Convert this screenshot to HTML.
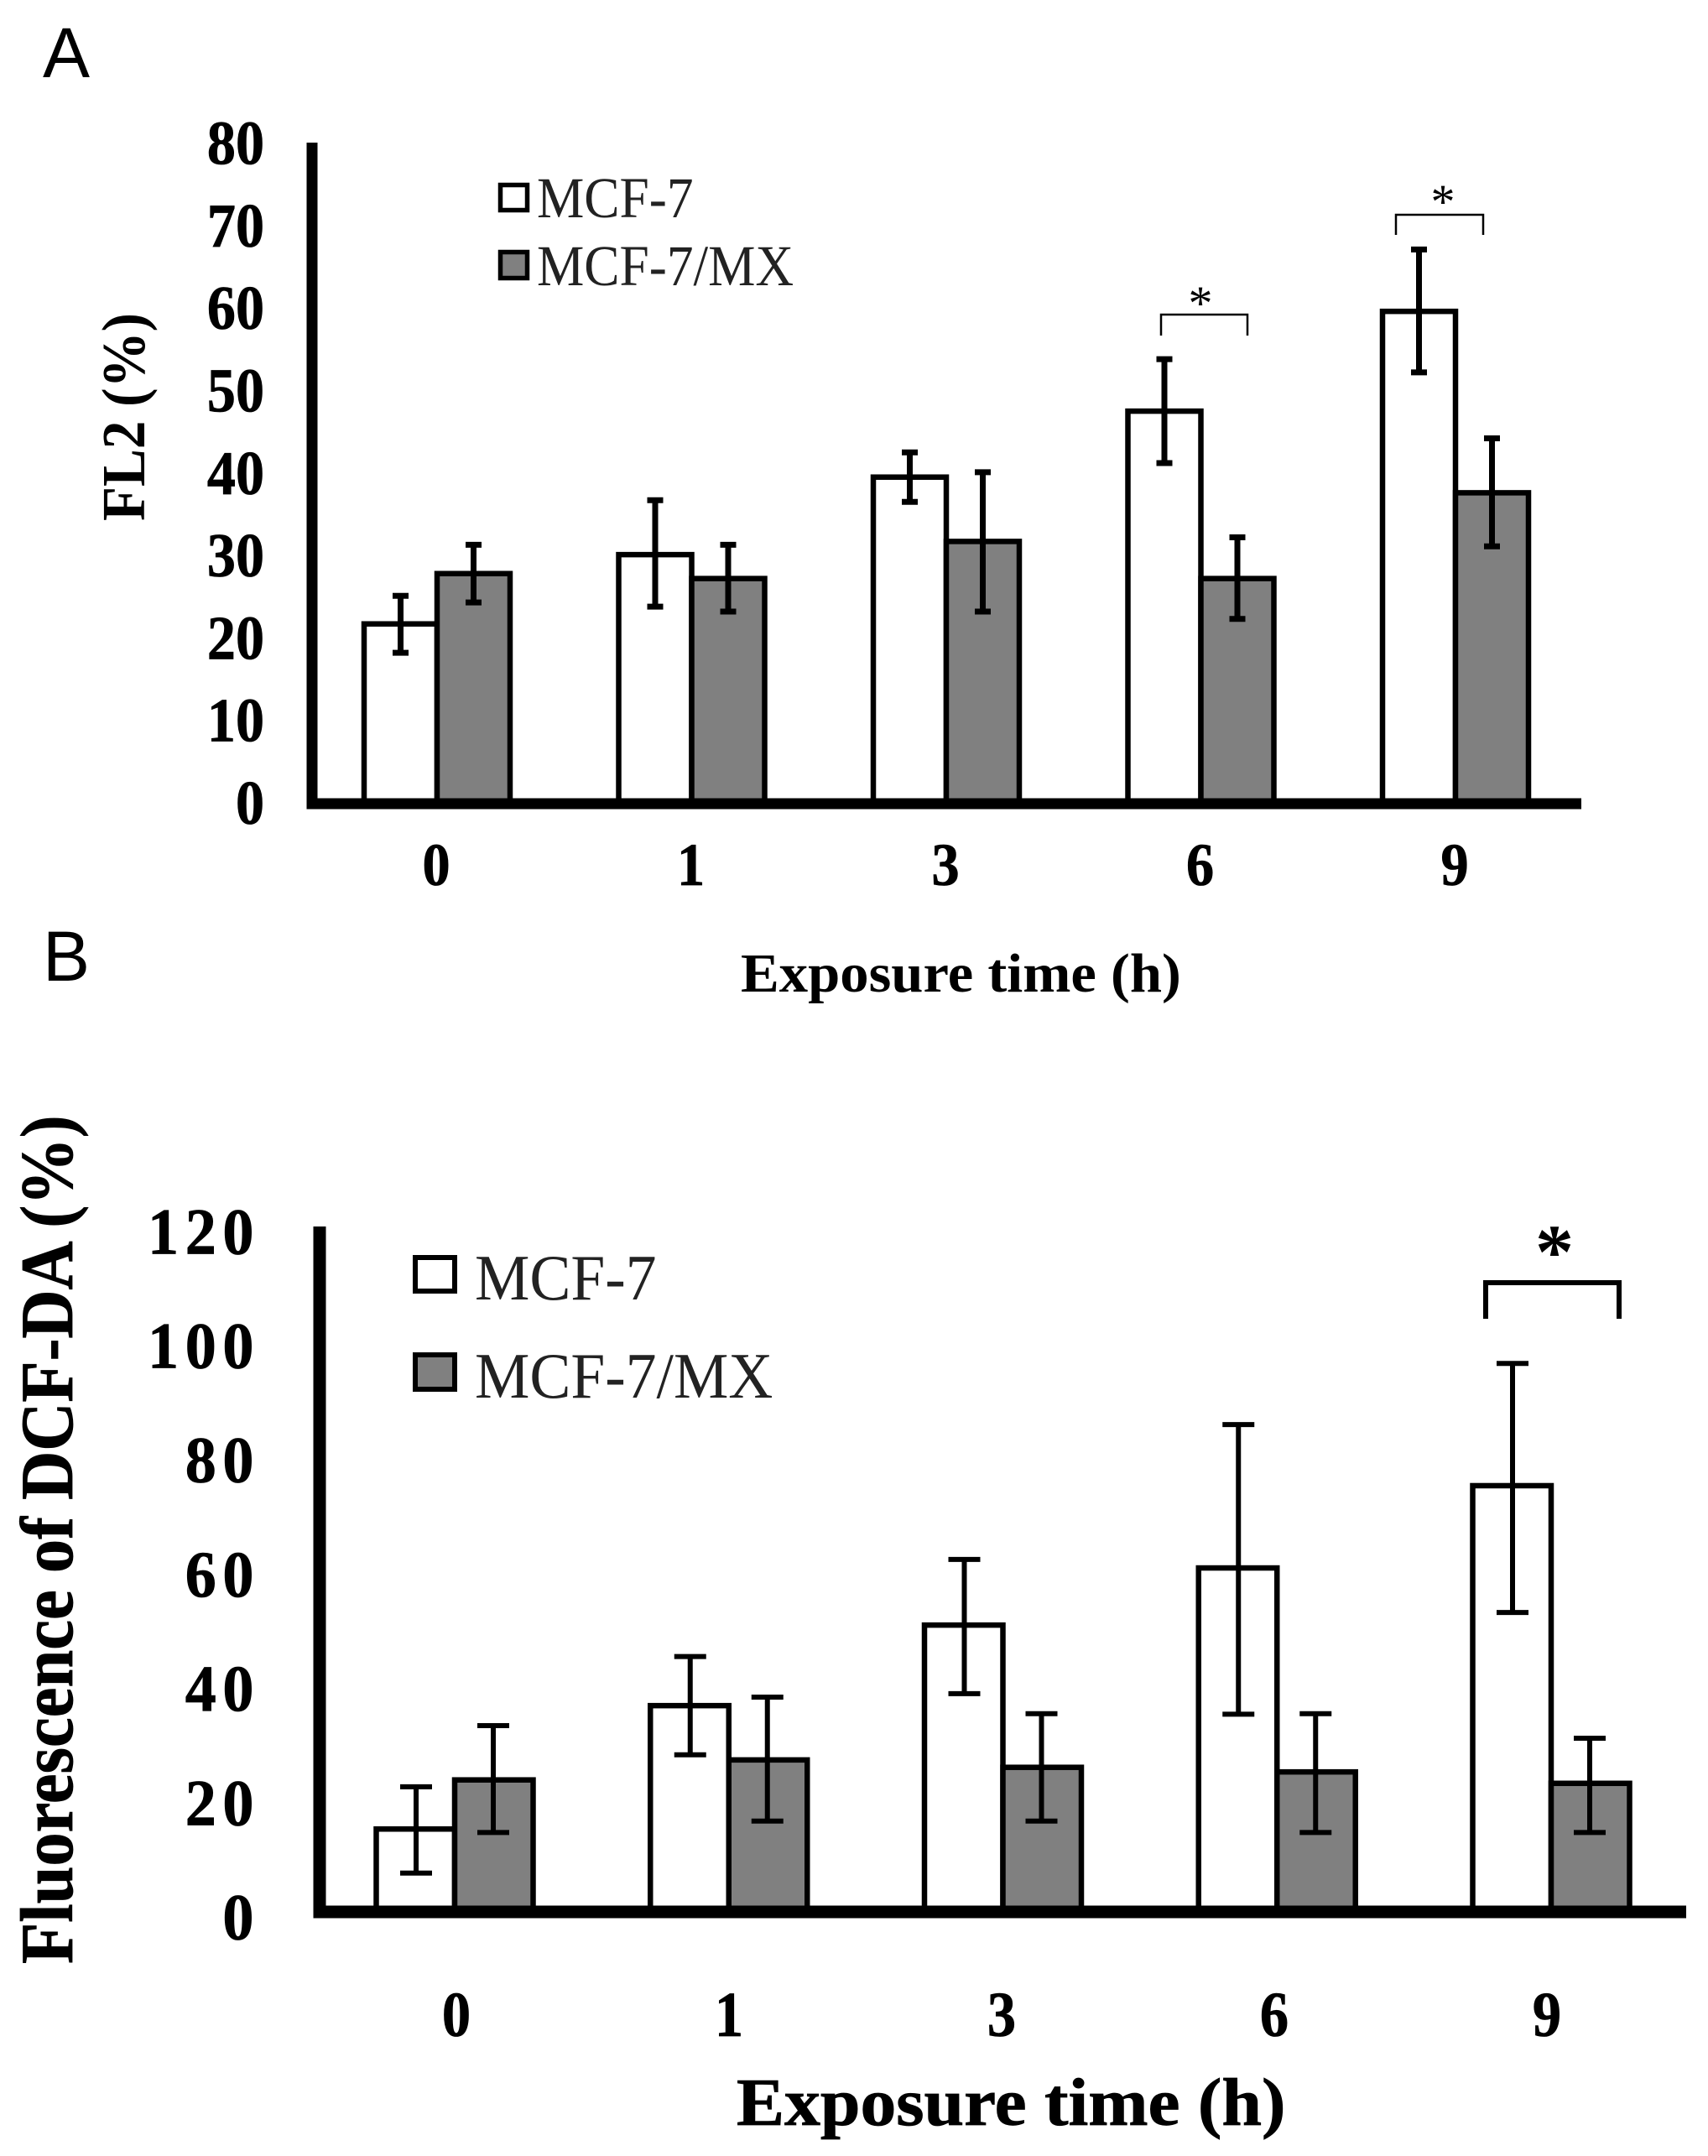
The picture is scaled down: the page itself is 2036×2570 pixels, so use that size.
<!DOCTYPE html>
<html lang="en">
<head>
<meta charset="utf-8">
<title>FL2 and DCF-DA fluorescence over exposure time</title>
<style>
html,body{margin:0;padding:0;background:#fff;}
#figure{display:block;width:2036px;height:2570px;background:#fff;}
text{font-family:"Liberation Serif",serif;fill:#000;}
.bold{font-weight:bold;}
.heavy{font-weight:bold;stroke:#000;stroke-width:0.8px;}
.light{fill:#222;}
.panel-letter{font-family:"Liberation Sans",sans-serif;font-size:84px;}
</style>
</head>
<body>
<svg id="figure" xmlns="http://www.w3.org/2000/svg" width="2036" height="2570" viewBox="0 0 2036 2570">
  <rect x="0" y="0" width="2036" height="2570" fill="#fff"/>

  <g id="panelA"></g>
  <g id="panelB"></g>

  <text class="panel-letter" x="51" y="92">A</text>
  <text class="panel-letter" x="51" y="1169">B</text>

  <text class="bold" font-size="73" transform="translate(172,621) rotate(-90) scale(0.92,1)">FL2 (%)</text>
  <text class="bold" font-size="66" transform="translate(883,1182) scale(1.04,1)">Exposure time (h)</text>
  <text class="heavy" font-size="89" transform="translate(86,2341) rotate(-90) scale(0.905,1)">Fluorescence of DCF-DA (%)</text>
  <text class="heavy" font-size="80" transform="translate(878,2533) scale(1.07,1)">Exposure time (h)</text>

  <g>
    <rect x="596.5" y="220.5" width="32" height="30" fill="#fff" stroke="#000" stroke-width="5.5"/>
    <text class="light" font-size="69" transform="translate(640,259) scale(0.918,1)">MCF-7</text>
    <rect x="596.5" y="300.5" width="32" height="31" fill="#808080" stroke="#000" stroke-width="5.5"/>
    <text class="light" font-size="69" transform="translate(640,340) scale(0.918,1)">MCF-7/MX</text>
  </g>
  <g>
    <rect x="495" y="1499" width="47" height="40" fill="#fff" stroke="#000" stroke-width="6"/>
    <text class="light" font-size="77" transform="translate(566,1549) scale(0.955,1)">MCF-7</text>
    <rect x="495" y="1615" width="47" height="41" fill="#808080" stroke="#000" stroke-width="6"/>
    <text class="light" font-size="77" transform="translate(566,1666) scale(0.955,1)">MCF-7/MX</text>
  </g>

  <g>
    <path d="M1384 400V375H1487V400" fill="none" stroke="#000" stroke-width="2.5"/>
    <text font-size="58" text-anchor="middle" x="1431" y="381">*</text>
  </g>
  <g>
    <path d="M1664 280V256H1768V280" fill="none" stroke="#000" stroke-width="2.5"/>
    <text font-size="58" text-anchor="middle" x="1720" y="260">*</text>
  </g>
  <g>
    <path d="M1771 1572V1529H1930V1572" fill="none" stroke="#000" stroke-width="6"/>
    <text class="bold" font-size="92" text-anchor="middle" x="1853" y="1523">*</text>
  </g>
</svg>

<script>
// Shared categories
const exposureHours = ['0', '1', '3', '6', '9'];

// Panel A values (FL2 %)
const panelAYTicks = [0, 10, 20, 30, 40, 50, 60, 70, 80];
const panelAMcf7 = [21.8, 30.2, 39.6, 47.6, 59.7];
const panelAMcf7High = [25.2, 36.8, 42.6, 53.9, 67.2];
const panelAMcf7Low = [18.3, 23.9, 36.6, 41.3, 52.3];
const panelAMx = [27.9, 27.3, 31.8, 27.3, 37.7];
const panelAMxHigh = [31.4, 31.4, 40.2, 32.3, 44.3];
const panelAMxLow = [24.4, 23.3, 23.3, 22.4, 31.2];

// Panel B values (fluorescence of DCF-DA %)
const panelBYTicks = [0, 20, 40, 60, 80, 100, 120];
const panelBMcf7 = [14.5, 36.1, 50.2, 60.2, 74.6];
const panelBMcf7High = [21.9, 44.7, 61.7, 85.3, 96];
const panelBMcf7Low = [6.8, 27.5, 38.2, 34.6, 52.4];
const panelBMx = [23.1, 26.6, 25.3, 24.5, 22.5];
const panelBMxHigh = [32.6, 37.6, 34.7, 34.7, 30.4];
const panelBMxLow = [13.9, 15.9, 15.9, 13.9, 13.9];

const SVG_NS = 'http://www.w3.org/2000/svg';

function make(parent, tag, attrs) {
  const el = document.createElementNS(SVG_NS, tag);
  for (const key in attrs) el.setAttribute(key, attrs[key]);
  parent.appendChild(el);
  return el;
}

function drawPanel(root, layout, series) {
  const yScale = function (v) { return layout.y0 - v * layout.pxPerUnit; };
  const groupX = function (i) { return layout.x0 + i * layout.step; };
  const labelX = function (i) { return layout.labelX0 + i * layout.labelStep; };

  // bars
  series.categories.forEach(function (cat, i) {
    const mid = groupX(i);

    const whiteTop = yScale(series.first[i]);
    const whiteBar = make(root, 'rect', {
      x: mid - layout.barW, y: whiteTop, width: layout.barW, height: layout.y0 - whiteTop,
      fill: '#fff', stroke: '#000', 'stroke-width': layout.barStroke
    });
    
    

    const grayTop = yScale(series.second[i]);
    const grayBar = make(root, 'rect', {
      x: mid, y: grayTop, width: layout.barW, height: layout.y0 - grayTop,
      fill: '#808080', stroke: '#000', 'stroke-width': layout.barStroke
    });
    
    
  });

  // axes
  const yAxis = make(root, 'line', {
    x1: layout.axisX, x2: layout.axisX, y1: layout.axisTop, y2: layout.y0 + layout.xAxisW / 2,
    stroke: '#000', 'stroke-width': layout.yAxisW
  });
  
  

  const xAxis = make(root, 'line', {
    x1: layout.axisX, x2: layout.axisRight, y1: layout.y0, y2: layout.y0,
    stroke: '#000', 'stroke-width': layout.xAxisW
  });
  
  

  // error bars
  function errorBar(cx, high, low, name) {
    const yHigh = yScale(high);
    const yLow = yScale(low);
    const group = make(root, 'path', {
      d: 'M' + cx + ' ' + yHigh + 'V' + yLow +
         'M' + (cx - layout.capW / 2) + ' ' + yHigh + 'H' + (cx + layout.capW / 2) +
         'M' + (cx - layout.capW / 2) + ' ' + yLow + 'H' + (cx + layout.capW / 2),
      fill: 'none', stroke: '#000', 'stroke-width': layout.errStroke
    });
    
    
  }
  series.categories.forEach(function (cat, i) {
    const mid = groupX(i);
    errorBar(mid - layout.errOffset, series.firstHigh[i], series.firstLow[i], 'error-bar-mcf7');
    errorBar(mid + layout.errOffset, series.secondHigh[i], series.secondLow[i], 'error-bar-mcf7-mx');
  });

  // y tick labels
  series.yTicks.forEach(function (tick) {
    const label = make(root, 'text', {
      class: 'heavy',
      'font-size': layout.yFont,
      'text-anchor': 'end',
      'letter-spacing': layout.yTracking,
      transform: 'translate(' + layout.yLabelRight + ',' + (yScale(tick) + layout.yLabelDrop) + ') scale(' + layout.ySx + ',1)'
    });
    label.textContent = String(tick);
    
    
  });

  // x tick labels
  series.categories.forEach(function (cat, i) {
    const label = make(root, 'text', {
      class: 'heavy',
      'font-size': layout.xFont,
      'text-anchor': 'middle',
      transform: 'translate(' + labelX(i) + ',' + layout.xLabelY + ') scale(' + layout.xSx + ',1)'
    });
    label.textContent = cat;
    
    
  });
}

drawPanel(document.getElementById('panelA'), {
  y0: 958, pxPerUnit: 9.83, x0: 521, step: 303.5, labelX0: 520, labelStep: 303.5,
  barW: 87, barStroke: 6.5, axisX: 372, axisTop: 170, axisRight: 1885, yAxisW: 13, xAxisW: 13,
  capW: 19, errStroke: 7, errOffset: 43.5,
  yFont: 74, ySx: 0.92, yTracking: 0, yLabelRight: 315, yLabelDrop: 24,
  xFont: 72, xSx: 0.92, xLabelY: 1055
}, {
  categories: exposureHours, yTicks: panelAYTicks,
  first: panelAMcf7, firstHigh: panelAMcf7High, firstLow: panelAMcf7Low,
  second: panelAMx, secondHigh: panelAMxHigh, secondLow: panelAMxLow
});

drawPanel(document.getElementById('panelB'), {
  y0: 2279, pxPerUnit: 6.81, x0: 542, step: 326.75, labelX0: 544, labelStep: 325,
  barW: 93.5, barStroke: 6.5, axisX: 381, axisTop: 1462, axisRight: 2010, yAxisW: 15, xAxisW: 15,
  capW: 38, errStroke: 6, errOffset: 46,
  yFont: 78, ySx: 0.95, yTracking: 8, yLabelRight: 310, yLabelDrop: 32.5,
  xFont: 76, xSx: 0.9, xLabelY: 2427
}, {
  categories: exposureHours, yTicks: panelBYTicks,
  first: panelBMcf7, firstHigh: panelBMcf7High, firstLow: panelBMcf7Low,
  second: panelBMx, secondHigh: panelBMxHigh, secondLow: panelBMxLow
});
</script>
</body>
</html>
